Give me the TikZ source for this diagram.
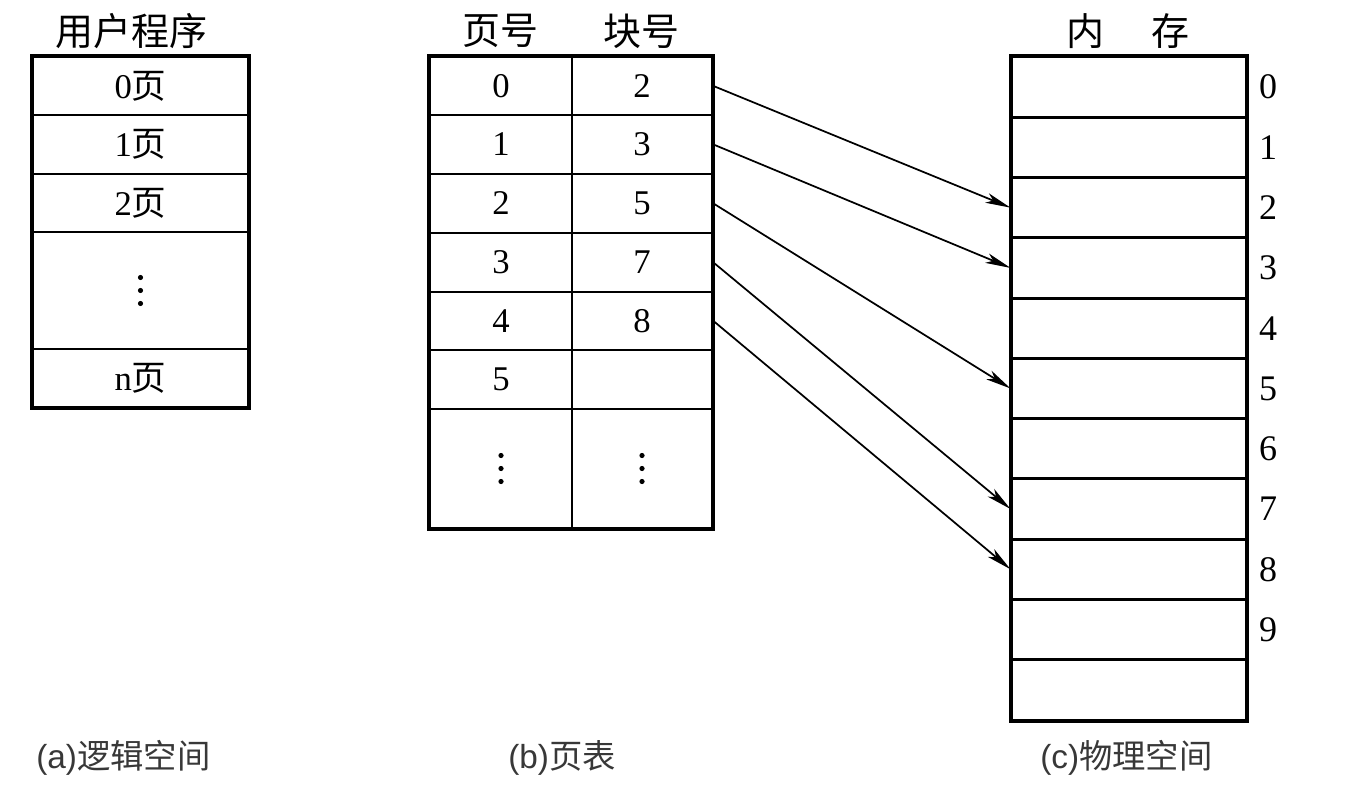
\documentclass[tikz,border=0pt]{standalone}
\usepackage{fontspec}
\setmainfont{Liberation Serif}
\setsansfont{Liberation Sans}
\newfontfamily\cjk{Noto Sans CJK SC}
\usetikzlibrary{arrows.meta}
\begin{document}
\begin{tikzpicture}[x=0.75pt,y=-0.75pt,
  cell/.style 2 args={draw, line width=2.2pt, inner sep=0pt,
    minimum width={#1*0.75pt}, minimum height={#2*0.75pt},
    font=\fontsize{26}{28}\selectfont},
  frame/.style={draw, line width=2.8pt},
  head/.style={inner sep=0pt, font=\fontsize{28.5}{30}\selectfont\cjk},
  numlab/.style={inner sep=0pt, font=\fontsize{27}{30}\selectfont},
  captext/.style={inner sep=0pt, anchor=west, text=black!78, font=\fontsize{25}{28}\selectfont\sffamily},
  vdot/.style={fill=black, draw=none},
  arr/.style={line width=1.3pt, -{Stealth[length=19pt,width=7.5pt,inset=5pt]}}]
\useasboundingbox (0,0) rectangle (1370,788);

% (a) logical space
\node[head] (ha) at (131,31) {用户程序};
\node[cell={215}{58}]  (l0) at (140.5,86)   {0{\cjk 页}};
\node[cell={215}{59}]  (l1) at (140.5,144.5){1{\cjk 页}};
\node[cell={215}{58}]  (l2) at (140.5,203)  {2{\cjk 页}};
\node[cell={215}{117}] (l3) at (140.5,290.5){};
\node[cell={215}{58}]  (l4) at (140.5,378)  {n{\cjk 页}};
\draw[frame] (l0.north west) rectangle (l4.south east);

% (b) page table
\node[head] (hb1) at (500,31) {页号};
\node[head] (hb2) at (641,31) {块号};
\node[cell={142}{58}]  (p0a) at (501,86)    {0};
\node[cell={140}{58}]  (p0b) at (642,86)    {2};
\node[cell={142}{59}]  (p1a) at (501,144.5) {1};
\node[cell={140}{59}]  (p1b) at (642,144.5) {3};
\node[cell={142}{59}]  (p2a) at (501,203.5) {2};
\node[cell={140}{59}]  (p2b) at (642,203.5) {5};
\node[cell={142}{59}]  (p3a) at (501,262.5) {3};
\node[cell={140}{59}]  (p3b) at (642,262.5) {7};
\node[cell={142}{58}]  (p4a) at (501,321)   {4};
\node[cell={140}{58}]  (p4b) at (642,321)   {8};
\node[cell={142}{59}]  (p5a) at (501,379.5) {5};
\node[cell={140}{59}]  (p5b) at (642,379.5) {};
\node[cell={142}{119}] (p6a) at (501,468.5) {};
\node[cell={140}{119}] (p6b) at (642,468.5) {};
\draw[frame] (p0a.north west) rectangle (p6b.south east);

% vertical ellipses
\foreach \c in {l3,p6a,p6b}{
  \foreach \d in {-13,0,13}{
    \fill[vdot] ([yshift={-\d*0.75pt}]\c.center) circle (2.6*0.75pt);
  }
}

% (c) physical memory
\node[head] (hc) at (1128,31) {内\hspace{1.25em}存};
\foreach \i in {0,...,10}{
  \node[cell={234}{60.27}] (m\i) at (1129,{57+30.135+\i*60.27}) {};
}
\draw[frame] (m0.north west) rectangle (m10.south east);
\foreach \i in {0,...,9}{
  \node[numlab] (n\i) at (1268,{57+30.135+\i*60.27}) {\i};
}

% arrows
\draw[arr] (p0b.east) -- (m2.west);
\draw[arr] (p1b.east) -- (m3.west);
\draw[arr] (p2b.east) -- (m5.west);
\draw[arr] (p3b.east) -- (m7.west);
\draw[arr] (p4b.east) -- (m8.west);

% captions
\node[captext] (ca) at (36,758)   {(a){\cjk 逻辑空间}};
\node[captext] (cb) at (508,758)  {(b){\cjk 页表}};
\node[captext] (cc) at (1040,758) {(c){\cjk 物理空间}};
\end{tikzpicture}
\end{document}
